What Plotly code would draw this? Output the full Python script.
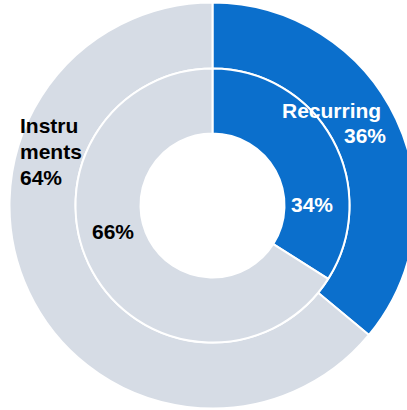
import plotly.graph_objects as go

# ---- data ----
categories = ["Recurring", "Instruments"]
outer_values = [36, 64]          # outer ring (%)
inner_values = [34, 66]          # inner ring (%)
outer_label_lines = [["Recurring"], ["Instru", "ments"]]
colors = ["#0B6FCC", "#D6DCE5"]
text_colors = ["#FFFFFF", "#000000"]

# ---- geometry (pixels) ----
W, H = 420, 412
cx, cy = 212.5, 205.5
R_out, R_mid, R_hole = 203.0, 137.0, 72.0
FONT = "Liberation Sans, Arial, sans-serif"
FS = 21


def dom(r):
    return dict(x=[(cx - r) / W, (cx + r) / W], y=[1 - (cy + r) / H, 1 - (cy - r) / H])


fig = go.Figure()
fig.add_trace(go.Pie(
    labels=categories, values=outer_values, hole=R_mid / R_out, sort=False,
    direction="clockwise", rotation=0, domain=dom(R_out), textinfo="none",
    marker=dict(colors=colors, line=dict(color="white", width=2)),
    hoverinfo="label+percent", showlegend=False,
))
fig.add_trace(go.Pie(
    labels=categories, values=inner_values, hole=R_hole / R_mid, sort=False,
    direction="clockwise", rotation=0, domain=dom(R_mid), textinfo="none",
    marker=dict(colors=colors, line=dict(color="white", width=2)),
    hoverinfo="label+percent", showlegend=False,
))


def ann(text, px, py, xanchor, color):
    fig.add_annotation(
        text=f"<b>{text}</b>", x=px / W, y=1 - py / H, xref="paper", yref="paper",
        xanchor=xanchor, yanchor="middle", showarrow=False,
        font=dict(family=FONT, size=FS, color=color),
    )


# outer ring labels
rec_lines = outer_label_lines[0] + [f"{outer_values[0]}%"]
ann(rec_lines[0], 383, 110.9, "right", text_colors[0])
ann(rec_lines[1], 388, 135.9, "right", text_colors[0])
ins_lines = outer_label_lines[1] + [f"{outer_values[1]}%"]
for i, t in enumerate(ins_lines):
    ann(t, 18, 125.9 + i * 25.8, "left", text_colors[1])

# inner ring labels
ann(f"{inner_values[0]}%", 312, 204.9, "center", text_colors[0])
ann(f"{inner_values[1]}%", 112.5, 231.9, "center", text_colors[1])

fig.update_layout(
    width=W, height=H, autosize=False,
    margin=dict(l=0, r=0, t=0, b=0),
    paper_bgcolor="white", plot_bgcolor="white",
)

fig.write_html(
    "out.html",
    config={"displayModeBar": False},
    post_script="document.body.style.margin='0';document.body.style.overflow='hidden';",
)
